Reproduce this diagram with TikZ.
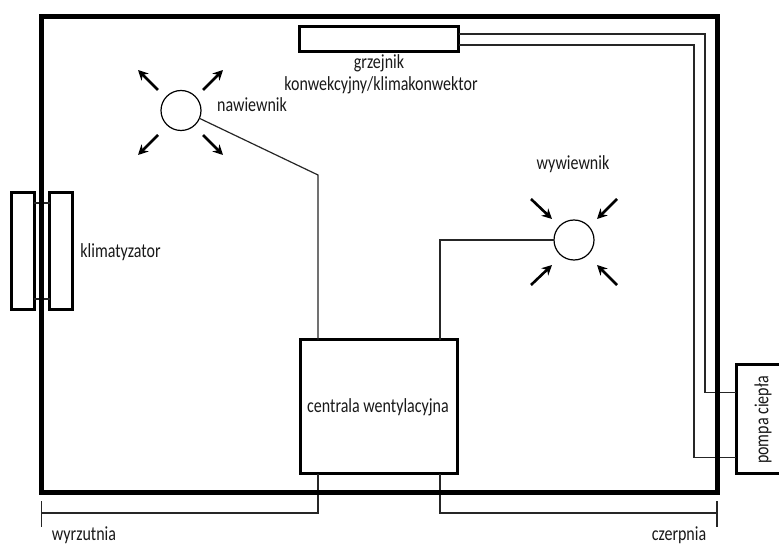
\documentclass[tikz,border=0pt]{standalone}
\usepackage{fontspec}
\setmainfont[FakeStretch=0.8]{Carlito}
\usetikzlibrary{arrows.meta}
\tikzset{
  box/.style={draw=black,rectangle,inner sep=0pt,outer sep=0pt,line width=3pt,fill=white},
  vent/.style={draw=black,circle,inner sep=0pt,outer sep=0pt,minimum size=40pt,line width=1.2pt,fill=white},
  duct/.style={draw=black!85,line width=1.2pt},
  flow/.style={draw=black,line width=2.6pt,-{Stealth[length=10pt,width=10pt]}},
  lab/.style={inner sep=0pt,outer sep=0pt,font=\fontsize{20}{24}\selectfont,text=black!90,align=center}
}
\begin{document}
\begin{tikzpicture}[x=1pt,y=-1pt]
\useasboundingbox (0,0) rectangle (779,545);
\fill[white] (0,0) rectangle (779,545);
% ducts and pipes first, so the heavy wall lies over them
\node[box,minimum width=22.5pt,minimum height=117pt] (kout) at (22.8,251.5) {};
\node[box,minimum width=22.5pt,minimum height=117pt] (kin) at (61.2,251.5) {};
\node[box,minimum width=159.5pt,minimum height=25pt] (grz) at (379,39.5) {};
\node[box,minimum width=157.5pt,minimum height=134pt] (cen) at (379,406.5) {};
\node[box,minimum width=44pt,minimum height=109pt] (pom) at (758,419) {};
\node[vent] (naw) at (181,110.5) {};
\node[vent] (wyw) at (574,240) {};
\coordinate (wyrz) at (318,513);
\coordinate (czer) at (440,513);
\coordinate (tl) at (41.5,513);
\coordinate (tr) at (717,513);
\coordinate (tla) at (41.5,501);
\coordinate (tlb) at (41.5,527);
\coordinate (tra) at (717,501);
\coordinate (trb) at (717,527);
\coordinate (nb) at (318,175);
\coordinate (wb) at (440,240);
\coordinate (p1) at (705,34);
\coordinate (p2) at (705,392.5);
\coordinate (p3) at (694,45);
\coordinate (p4) at (694,457.5);
\draw[duct] (kout.east |- 0,203) -- (kin.west |- 0,203);
\draw[duct] (kout.east |- 0,299) -- (kin.west |- 0,299);
\draw[duct] (naw.-23) -- (nb) -- (nb |- cen.north);
\draw[duct] (wyw.west) -- (wb) -- (wb |- cen.north);
\draw[duct] (wyrz |- cen.south) -- (wyrz) -- (tl);
\draw[duct] (czer |- cen.south) -- (czer) -- (tr);
\draw[duct] (tla) -- (tlb);
\draw[duct] (tra) -- (trb);
\draw[duct] (grz.east |- p1) -- (p1) -- (p2) -- (pom.west |- p2);
\draw[duct] (grz.east |- p3) -- (p3) -- (p4) -- (pom.west |- p4);
\draw[black,line width=5pt] (41.5,16.5) rectangle (717.5,492.5);
\draw[flow] (158,90) -- (138,70);
\draw[flow] (203,90) -- (223,70);
\draw[flow] (158,135) -- (138,155);
\draw[flow] (203,135) -- (223,155);
\draw[flow] (531,199) -- (552,219);
\draw[flow] (617,199) -- (597,219);
\draw[flow] (531,285) -- (552,265);
\draw[flow] (617,285) -- (597,265);
\node[lab] (l1) at (120.5,252) {klimatyzator};
\node[lab] (l2) at (252,105) {nawiewnik};
\node[lab] (l3) at (379,63) {grzejnik};
\node[lab] (l4) at (381,85) {konwekcyjny/klimakonwektor};
\node[lab] (l5) at (573,164) {wywiewnik};
\node[lab] (l6) at (378,407) {centrala wentylacyjna};
\node[lab,rotate=90] (l7) at (763,420) {pompa ciepła};
\node[lab] (l8) at (84,535) {wyrzutnia};
\node[lab] (l9) at (679,535) {czerpnia};
\end{tikzpicture}
\end{document}
